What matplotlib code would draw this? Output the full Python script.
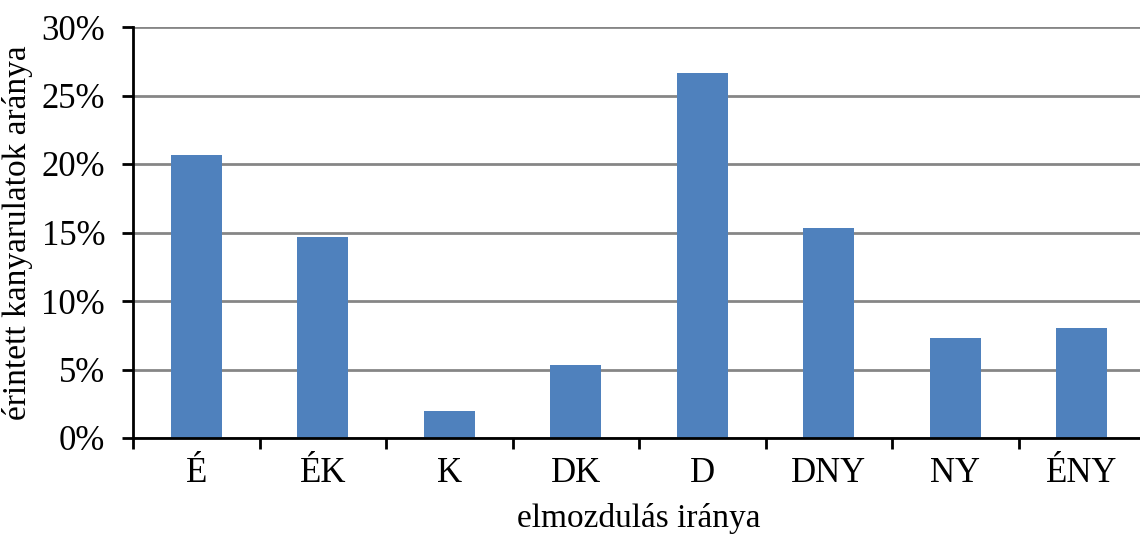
import matplotlib
matplotlib.use("Agg")
import matplotlib.pyplot as plt
from matplotlib.ticker import FixedLocator, NullFormatter, FixedFormatter, PercentFormatter
import numpy as np

categories = ["É", "ÉK", "K", "DK", "D", "DNY", "NY", "ÉNY"]
values = [20.67, 14.67, 2.0, 5.33, 26.67, 15.33, 7.33, 8.0]
y_ticks = [0, 5, 10, 15, 20, 25, 30]

plt.rcParams['font.family'] = ['Liberation Serif', 'DejaVu Serif']

fig = plt.figure(figsize=(11.4, 5.35), dpi=100)
ax = fig.add_axes([133/1140, 1-438/535, (1145-133)/1140, (438-27)/535])

x = np.arange(len(categories))
ax.bar(x, values, width=0.4, color="#4F81BD", zorder=3)

ax.set_xlim(-0.5, len(categories) - 0.5)
ax.set_ylim(0, 30)
ax.set_yticks(y_ticks)
ax.yaxis.set_major_formatter(PercentFormatter(decimals=0))
ax.yaxis.grid(True, color="#868686", linewidth=2, zorder=0)

ax.xaxis.set_major_locator(FixedLocator(np.arange(-0.5, len(categories) + 0.5, 1.0)))
ax.xaxis.set_major_formatter(NullFormatter())
ax.xaxis.set_minor_locator(FixedLocator(x))
ax.xaxis.set_minor_formatter(FixedFormatter(categories))
ax.tick_params(axis='x', which='major', direction='out', length=8, width=2, color='black')
ax.tick_params(axis='x', which='minor', length=0, labelsize=25, pad=14)
ax.tick_params(axis='y', direction='out', length=8, width=2, labelsize=25, pad=12)

for s in ['top', 'right']:
    ax.spines[s].set_visible(False)
for s in ['left', 'bottom']:
    ax.spines[s].set_linewidth(2)
    ax.spines[s].set_color('black')
    ax.spines[s].set_zorder(4)

ax.set_xlabel("elmozdulás iránya", fontsize=24, labelpad=9)
ax.set_ylabel("érintett kanyarulatok aránya", fontsize=24, labelpad=6)

fig.savefig("out.png", dpi=100, facecolor="white")
